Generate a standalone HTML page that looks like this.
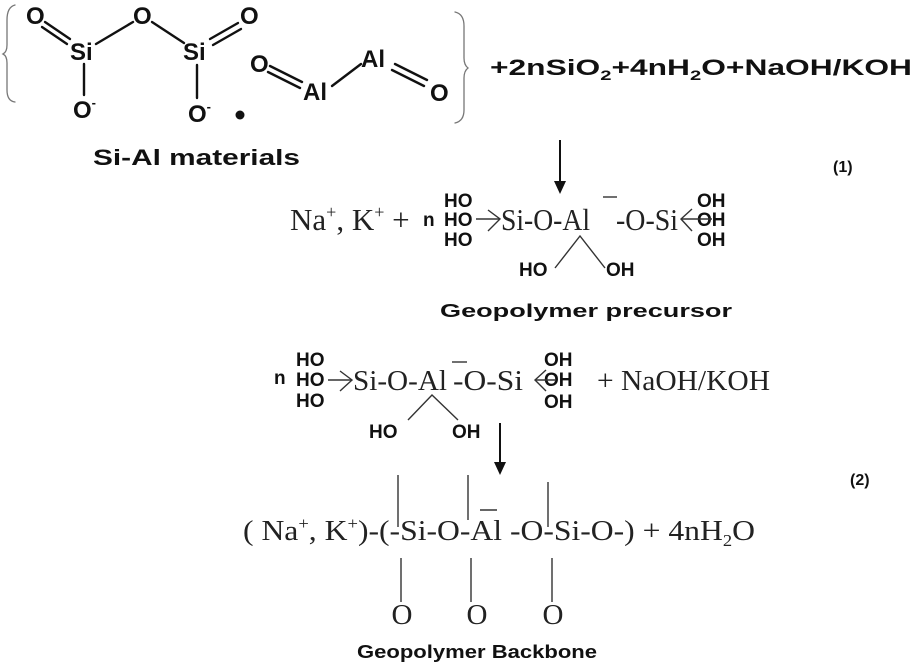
<!DOCTYPE html>
<html><head><meta charset="utf-8"><style>
html,body{margin:0;padding:0;background:#fff;}
svg{display:block;}
.a{font-family:"Liberation Sans",Arial,sans-serif;font-weight:bold;fill:#111;}
.t{font-family:"Liberation Serif","Times New Roman",serif;fill:#222;}
</style></head><body>
<svg width="915" height="666" viewBox="0 0 915 666" xmlns="http://www.w3.org/2000/svg">
<g stroke="#111" stroke-width="2.4" fill="none" stroke-linecap="round">
<path d="M15 5 Q7 7 7 20 L7 45 Q7 52 3 54 Q7 56 7 63 L7 90 Q7 101 15 102" stroke="#777" stroke-width="1.3"/>
<path d="M455 12 Q464 14 464 26 L464 58 Q464 65 468 68 Q464 71 464 78 L464 110 Q464 121 455 123" stroke="#777" stroke-width="1.3"/>
<line x1="45" y1="22" x2="70" y2="39"/><line x1="42" y1="27" x2="67" y2="44"/>
<line x1="96" y1="44" x2="133" y2="22"/>
<line x1="152" y1="22" x2="184" y2="43"/>
<line x1="210" y1="39" x2="238" y2="23"/><line x1="213" y1="45" x2="241" y2="29"/>
<line x1="84" y1="64" x2="84" y2="95"/>
<line x1="197" y1="65" x2="197" y2="98"/>
<line x1="270" y1="66" x2="302" y2="82"/><line x1="268" y1="72" x2="300" y2="88"/>
<line x1="332" y1="86" x2="361" y2="64"/>
<line x1="395" y1="64" x2="427" y2="80"/><line x1="392" y1="70" x2="424" y2="86"/>
</g>
<circle cx="240" cy="115" r="4.5" fill="#111"/>
<g class="a" font-size="24">
<text x="26" y="24">O</text>
<text x="70" y="60">Si</text>
<text x="133" y="24">O</text>
<text x="183" y="60">Si</text>
<text x="240" y="24">O</text>
<text x="73" y="118">O<tspan font-size="13" dy="-11">-</tspan></text>
<text x="188" y="122">O<tspan font-size="13" dy="-11">-</tspan></text>
<text x="250" y="72">O</text>
<text x="303" y="100">Al</text>
<text x="361" y="67">Al</text>
<text x="430" y="101">O</text>
</g>
<text class="a" x="93" y="165" font-size="22" textLength="207" lengthAdjust="spacingAndGlyphs">Si-Al materials</text>
<text class="a" x="490" y="75" font-size="22" textLength="422" lengthAdjust="spacingAndGlyphs">+2nSiO<tspan font-size="14" dy="5">2</tspan><tspan dy="-5">+4nH</tspan><tspan font-size="14" dy="5">2</tspan><tspan dy="-5">O+NaOH/KOH</tspan></text>

<line x1="560" y1="140" x2="560" y2="185" stroke="#111" stroke-width="2"/>
<polygon points="554,181 566,181 560,194" fill="#111"/>
<text class="a" x="833" y="172" font-size="16">(1)</text>

<text class="t" x="290" y="230" font-size="31">Na<tspan font-size="18" dy="-12">+</tspan><tspan dy="12">, K</tspan><tspan font-size="18" dy="-12">+</tspan><tspan dy="12"> +</tspan></text>
<text class="a" x="423" y="226" font-size="19">n</text>
<g class="a" font-size="19">
<text x="444" y="207">HO</text><text x="444" y="226">HO</text><text x="444" y="246">HO</text>
<text x="697" y="207">OH</text><text x="697" y="226">OH</text><text x="697" y="246">OH</text>
<text x="519" y="276">HO</text><text x="606" y="276">OH</text>
</g>
<g stroke="#333" stroke-width="1.4" fill="none">
<line x1="476" y1="219" x2="500" y2="219"/><path d="M488 210 L500 219 L488 231"/>
<line x1="681" y1="219" x2="712" y2="219"/><path d="M692 209 L681 219 L692 231"/>
<path d="M555 268 L580 236 L605 268"/>
<line x1="603" y1="197" x2="617" y2="197"/>
</g>
<text class="t" x="501" y="230" font-size="31" textLength="89" lengthAdjust="spacingAndGlyphs">Si-O-Al</text>
<text class="t" x="616" y="230" font-size="31" textLength="62" lengthAdjust="spacingAndGlyphs">-O-Si</text>
<text class="a" x="440" y="317" font-size="18" textLength="292" lengthAdjust="spacingAndGlyphs">Geopolymer  precursor</text>

<text class="a" x="274" y="384" font-size="19">n</text>
<g class="a" font-size="19">
<text x="296" y="366">HO</text><text x="296" y="386">HO</text><text x="296" y="407">HO</text>
<text x="544" y="366">OH</text><text x="544" y="386">OH</text><text x="544" y="408">OH</text>
<text x="369" y="438">HO</text><text x="452" y="438">OH</text>
</g>
<g stroke="#333" stroke-width="1.4" fill="none">
<line x1="328" y1="380" x2="352" y2="380"/><path d="M340 371 L352 380 L340 391"/>
<line x1="535" y1="380" x2="556" y2="380"/><path d="M546 370 L535 380 L546 391"/>
<path d="M408 420 L432 395 L458 420"/>
<line x1="452" y1="362" x2="467" y2="362"/>
</g>
<text class="t" x="353" y="390" font-size="29" textLength="94" lengthAdjust="spacingAndGlyphs">Si-O-Al</text>
<text class="t" x="453" y="390" font-size="29" textLength="70" lengthAdjust="spacingAndGlyphs">-O-Si</text>
<text class="t" x="597" y="390" font-size="29" textLength="173" lengthAdjust="spacingAndGlyphs">+ NaOH/KOH</text>
<line x1="500" y1="423" x2="500" y2="466" stroke="#111" stroke-width="2"/>
<polygon points="494,462 506,462 500,475" fill="#111"/>
<text class="a" x="850" y="485" font-size="16">(2)</text>

<text class="t" x="243" y="540" font-size="29" textLength="512" lengthAdjust="spacingAndGlyphs">( Na<tspan font-size="17" dy="-11">+</tspan><tspan dy="11">, K</tspan><tspan font-size="17" dy="-11">+</tspan><tspan dy="11">)-(-Si-O-Al  -O-Si-O-) + 4nH</tspan><tspan font-size="17" dy="6">2</tspan><tspan dy="-6">O</tspan></text>
<g stroke="#333" stroke-width="1.4">
<line x1="398" y1="475" x2="398" y2="527"/>
<line x1="468" y1="475" x2="468" y2="520"/>
<line x1="548" y1="482" x2="548" y2="527"/>
<line x1="480" y1="510" x2="497" y2="510"/>
<line x1="401" y1="558" x2="401" y2="602"/>
<line x1="471" y1="558" x2="471" y2="602"/>
<line x1="552" y1="558" x2="552" y2="602"/>
</g>
<g class="t" font-size="29" text-anchor="middle">
<text x="402" y="624">O</text><text x="477" y="624">O</text><text x="553" y="624">O</text>
</g>
<text class="a" x="357" y="658" font-size="18" textLength="240" lengthAdjust="spacingAndGlyphs">Geopolymer Backbone</text>
</svg>
</body></html>
